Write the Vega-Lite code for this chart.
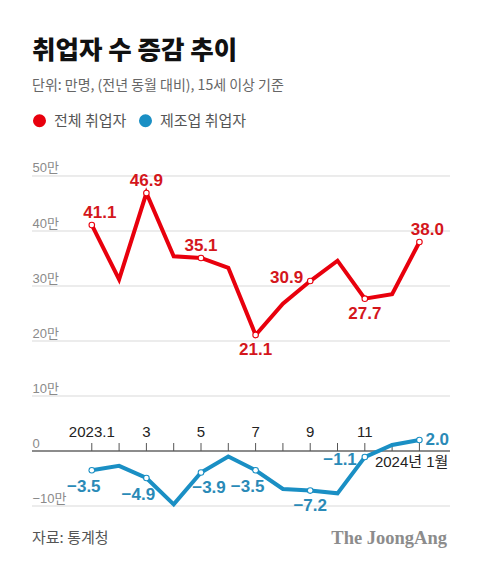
{
  "$schema": "https://vega.github.io/schema/vega-lite/v6.json",
  "width": 418,
  "height": 447,
  "autosize": "none",
  "padding": {"left": 32, "right": 30, "top": 113, "bottom": 9},
  "background": "white",
  "config": {"view": {"stroke": null}, "font": "Liberation Sans, Noto Sans CJK KR"},
  "title": {
    "text": "취업자 수 증감 추이",
    "subtitle": "단위: 만명, (전년 동월 대비), 15세 이상 기준",
    "anchor": "start",
    "frame": "group",
    "offset": 20,
    "font": "Noto Sans CJK KR",
    "fontSize": 25.5,
    "fontWeight": 900,
    "color": "#111111",
    "subtitleFont": "Noto Sans CJK KR",
    "subtitleFontSize": 14,
    "subtitleColor": "#666666",
    "subtitlePadding": 15
  },
  "data": {
    "values": [
      {"m": 0, "label": "2023.1", "total": 41.1, "manuf": -3.5},
      {"m": 1, "label": "2", "total": 31.2, "manuf": -2.7},
      {"m": 2, "label": "3", "total": 46.9, "manuf": -4.9},
      {"m": 3, "label": "4", "total": 35.4, "manuf": -9.7},
      {"m": 4, "label": "5", "total": 35.1, "manuf": -3.9},
      {"m": 5, "label": "6", "total": 33.3, "manuf": -1.0},
      {"m": 6, "label": "7", "total": 21.1, "manuf": -3.5},
      {"m": 7, "label": "8", "total": 26.8, "manuf": -6.9},
      {"m": 8, "label": "9", "total": 30.9, "manuf": -7.2},
      {"m": 9, "label": "10", "total": 34.6, "manuf": -7.7},
      {"m": 10, "label": "11", "total": 27.7, "manuf": -1.1},
      {"m": 11, "label": "12", "total": 28.5, "manuf": 1.1},
      {"m": 12, "label": "2024년 1월", "total": 38.0, "manuf": 2.0}
    ]
  },
  "layer": [
    {
      "data": {"values": [{"v": -10}, {"v": 10}, {"v": 20}, {"v": 30}, {"v": 40}, {"v": 50}]},
      "mark": {"type": "rule", "color": "#d9d9d9", "strokeWidth": 1},
      "encoding": {
        "y": {"field": "v", "type": "quantitative", "scale": {"domain": [-19.818, 61.4545], "nice": false, "zero": false},
          "axis": {
            "values": [-10, 0, 10, 20, 30, 40, 50],
            "orient": "left",
            "domain": false,
            "ticks": false,
            "title": null,
            "grid": false,
            "labelAlign": "left",
            "labelBaseline": "alphabetic",
            "labelPadding": 0,
            "labelOffset": -4,
            "labelFontSize": 13,
            "labelColor": "#8a8a8a",
            "labelExpr": "datum.value === 0 ? '0' : datum.label + '만'"
          }
        }
      }
    },
    {
      "data": {"values": [{"v": 0}]},
      "mark": {"type": "rule", "color": "#666666", "strokeWidth": 1.4},
      "encoding": {
        "y": {"field": "v", "type": "quantitative", "scale": {"domain": [-19.818, 61.4545], "nice": false, "zero": false}}
      }
    },
    {
      "mark": {"type": "rule", "color": "#555555", "strokeWidth": 1},
      "encoding": {
        "x": {"field": "m", "type": "quantitative", "scale": {"domain": [-2.19, 13.12], "nice": false, "zero": false}, "axis": null},
        "y": {"datum": 0, "type": "quantitative", "scale": {"domain": [-19.818, 61.4545], "nice": false, "zero": false}},
        "y2": {"datum": 1.45}
      }
    },
    {
      "mark": {"type": "line", "strokeWidth": 4, "strokeJoin": "miter", "color": "#e8000d"},
      "encoding": {
        "x": {"field": "m", "type": "quantitative", "scale": {"domain": [-2.19, 13.12], "nice": false, "zero": false}, "axis": null},
        "y": {"field": "total", "type": "quantitative", "scale": {"domain": [-19.818, 61.4545], "nice": false, "zero": false}}
      }
    },
    {
      "mark": {"type": "line", "strokeWidth": 4, "strokeJoin": "miter", "color": "#1a8fc4"},
      "encoding": {
        "x": {"field": "m", "type": "quantitative", "scale": {"domain": [-2.19, 13.12], "nice": false, "zero": false}, "axis": null},
        "y": {"field": "manuf", "type": "quantitative", "scale": {"domain": [-19.818, 61.4545], "nice": false, "zero": false}}
      }
    },
    {
      "transform": [{"fold": ["total", "manuf"], "as": ["series", "value"]}, {"filter": "datum.m % 2 === 0"}],
      "mark": {"type": "circle", "size": 44, "opacity": 1},
      "encoding": {
        "x": {"field": "m", "type": "quantitative", "scale": {"domain": [-2.19, 13.12], "nice": false, "zero": false}, "axis": null},
        "y": {"field": "value", "type": "quantitative", "scale": {"domain": [-19.818, 61.4545], "nice": false, "zero": false}},
        "color": {"field": "series", "type": "nominal", "scale": {"domain": ["total", "manuf"], "range": ["#e8000d", "#1a8fc4"]},
          "legend": {
            "orient": "top-left",
            "direction": "horizontal",
            "title": null,
            "offset": 0,
            "padding": 0,
            "symbolType": "circle",
            "symbolSize": 170,
            "symbolStrokeWidth": 0,
            "symbolOpacity": 1,
            "labelFontSize": 15,
            "labelFont": "Noto Sans CJK KR",
            "labelColor": "#555555",
            "labelOffset": 7,
            "columnPadding": 11,
            "labelExpr": "datum.value == 'total' ? '전체 취업자' : '제조업 취업자'"
          }
        }
      }
    },
    {
      "transform": [{"fold": ["total", "manuf"], "as": ["series", "value"]}, {"filter": "datum.m % 2 === 0"}],
      "mark": {"type": "circle", "size": 20, "opacity": 1, "color": "white"},
      "encoding": {
        "x": {"field": "m", "type": "quantitative", "scale": {"domain": [-2.19, 13.12], "nice": false, "zero": false}, "axis": null},
        "y": {"field": "value", "type": "quantitative", "scale": {"domain": [-19.818, 61.4545], "nice": false, "zero": false}}
      }
    },
    {
      "transform": [{"filter": {"field": "m", "oneOf": [2, 4]}}],
      "mark": {"type": "text", "fontSize": 17, "fontWeight": "bold", "color": "#d4161c", "dy": -12, "baseline": "middle"},
      "encoding": {
        "x": {"field": "m", "type": "quantitative", "scale": {"domain": [-2.19, 13.12], "nice": false, "zero": false}, "axis": null},
        "y": {"field": "total", "type": "quantitative", "scale": {"domain": [-19.818, 61.4545], "nice": false, "zero": false}},
        "text": {"field": "total", "type": "quantitative", "format": ".1f"}
      }
    },
    {
      "transform": [{"filter": {"field": "m", "oneOf": [0, 12]}}],
      "mark": {"type": "text", "fontSize": 17, "fontWeight": "bold", "color": "#d4161c", "dx": 8, "dy": -12, "baseline": "middle"},
      "encoding": {
        "x": {"field": "m", "type": "quantitative", "scale": {"domain": [-2.19, 13.12], "nice": false, "zero": false}, "axis": null},
        "y": {"field": "total", "type": "quantitative", "scale": {"domain": [-19.818, 61.4545], "nice": false, "zero": false}},
        "text": {"field": "total", "type": "quantitative", "format": ".1f"}
      }
    },
    {
      "transform": [{"filter": {"field": "m", "oneOf": [6, 10]}}],
      "mark": {"type": "text", "fontSize": 17, "fontWeight": "bold", "color": "#d4161c", "dy": 15, "baseline": "middle"},
      "encoding": {
        "x": {"field": "m", "type": "quantitative", "scale": {"domain": [-2.19, 13.12], "nice": false, "zero": false}, "axis": null},
        "y": {"field": "total", "type": "quantitative", "scale": {"domain": [-19.818, 61.4545], "nice": false, "zero": false}},
        "text": {"field": "total", "type": "quantitative", "format": ".1f"}
      }
    },
    {
      "transform": [{"filter": {"field": "m", "oneOf": [8]}}],
      "mark": {"type": "text", "fontSize": 17, "fontWeight": "bold", "color": "#d4161c", "align": "right", "dx": -7, "dy": -3, "baseline": "middle"},
      "encoding": {
        "x": {"field": "m", "type": "quantitative", "scale": {"domain": [-2.19, 13.12], "nice": false, "zero": false}, "axis": null},
        "y": {"field": "total", "type": "quantitative", "scale": {"domain": [-19.818, 61.4545], "nice": false, "zero": false}},
        "text": {"field": "total", "type": "quantitative", "format": ".1f"}
      }
    },
    {
      "transform": [{"filter": {"field": "m", "oneOf": [0, 2, 6]}}],
      "mark": {"type": "text", "fontSize": 17, "fontWeight": "bold", "color": "#2a8ab7", "dx": -8, "dy": 17, "baseline": "middle"},
      "encoding": {
        "x": {"field": "m", "type": "quantitative", "scale": {"domain": [-2.19, 13.12], "nice": false, "zero": false}, "axis": null},
        "y": {"field": "manuf", "type": "quantitative", "scale": {"domain": [-19.818, 61.4545], "nice": false, "zero": false}},
        "text": {"field": "manuf", "type": "quantitative", "format": ".1f"}
      }
    },
    {
      "transform": [{"filter": {"field": "m", "oneOf": [4]}}],
      "mark": {"type": "text", "fontSize": 17, "fontWeight": "bold", "color": "#2a8ab7", "dx": 8, "dy": 16, "baseline": "middle"},
      "encoding": {
        "x": {"field": "m", "type": "quantitative", "scale": {"domain": [-2.19, 13.12], "nice": false, "zero": false}, "axis": null},
        "y": {"field": "manuf", "type": "quantitative", "scale": {"domain": [-19.818, 61.4545], "nice": false, "zero": false}},
        "text": {"field": "manuf", "type": "quantitative", "format": ".1f"}
      }
    },
    {
      "transform": [{"filter": {"field": "m", "oneOf": [8]}}],
      "mark": {"type": "text", "fontSize": 17, "fontWeight": "bold", "color": "#2a8ab7", "dy": 15, "baseline": "middle"},
      "encoding": {
        "x": {"field": "m", "type": "quantitative", "scale": {"domain": [-2.19, 13.12], "nice": false, "zero": false}, "axis": null},
        "y": {"field": "manuf", "type": "quantitative", "scale": {"domain": [-19.818, 61.4545], "nice": false, "zero": false}},
        "text": {"field": "manuf", "type": "quantitative", "format": ".1f"}
      }
    },
    {
      "transform": [{"filter": {"field": "m", "oneOf": [10]}}],
      "mark": {"type": "text", "fontSize": 17, "fontWeight": "bold", "color": "#2a8ab7", "align": "right", "dx": -8, "dy": 3, "baseline": "middle"},
      "encoding": {
        "x": {"field": "m", "type": "quantitative", "scale": {"domain": [-2.19, 13.12], "nice": false, "zero": false}, "axis": null},
        "y": {"field": "manuf", "type": "quantitative", "scale": {"domain": [-19.818, 61.4545], "nice": false, "zero": false}},
        "text": {"field": "manuf", "type": "quantitative", "format": ".1f"}
      }
    },
    {
      "transform": [{"filter": {"field": "m", "oneOf": [12]}}],
      "mark": {"type": "text", "fontSize": 17, "fontWeight": "bold", "color": "#2a8ab7", "align": "left", "dx": 6, "baseline": "middle"},
      "encoding": {
        "x": {"field": "m", "type": "quantitative", "scale": {"domain": [-2.19, 13.12], "nice": false, "zero": false}, "axis": null},
        "y": {"field": "manuf", "type": "quantitative", "scale": {"domain": [-19.818, 61.4545], "nice": false, "zero": false}},
        "text": {"field": "manuf", "type": "quantitative", "format": ".1f"}
      }
    },
    {
      "transform": [{"filter": "datum.m % 2 === 0 && datum.m < 12"}],
      "mark": {"type": "text", "fontSize": 15, "color": "#222222", "dy": -19, "baseline": "middle"},
      "encoding": {
        "x": {"field": "m", "type": "quantitative", "scale": {"domain": [-2.19, 13.12], "nice": false, "zero": false}, "axis": null},
        "y": {"datum": 0, "type": "quantitative", "scale": {"domain": [-19.818, 61.4545], "nice": false, "zero": false}},
        "text": {"field": "label"}
      }
    },
    {
      "transform": [{"filter": {"field": "m", "oneOf": [12]}}],
      "mark": {"type": "text", "fontSize": 15, "color": "#222222", "align": "right", "dx": 29, "dy": 11, "baseline": "middle"},
      "encoding": {
        "x": {"field": "m", "type": "quantitative", "scale": {"domain": [-2.19, 13.12], "nice": false, "zero": false}, "axis": null},
        "y": {"datum": 0, "type": "quantitative", "scale": {"domain": [-19.818, 61.4545], "nice": false, "zero": false}},
        "text": {"field": "label"}
      }
    },
    {
      "data": {"values": [{"source": "자료: 통계청"}]},
      "mark": {"type": "text", "fontSize": 15, "color": "#555555", "align": "left", "baseline": "middle", "font": "Noto Sans CJK KR"},
      "encoding": {
        "x": {"datum": -2.19, "type": "quantitative", "scale": {"domain": [-2.19, 13.12], "nice": false, "zero": false}, "axis": null},
        "y": {"datum": -15.82, "type": "quantitative", "scale": {"domain": [-19.818, 61.4545], "nice": false, "zero": false}},
        "text": {"field": "source"}
      }
    },
    {
      "data": {"values": [{"brand": "The JoongAng"}]},
      "mark": {"type": "text", "fontSize": 18.5, "fontWeight": "bold", "color": "#8c8c8c", "align": "right", "dx": -3, "baseline": "middle", "font": "Liberation Serif"},
      "encoding": {
        "x": {"datum": 13.12, "type": "quantitative", "scale": {"domain": [-2.19, 13.12], "nice": false, "zero": false}, "axis": null},
        "y": {"datum": -15.82, "type": "quantitative", "scale": {"domain": [-19.818, 61.4545], "nice": false, "zero": false}},
        "text": {"field": "brand"}
      }
    }
  ]
}
